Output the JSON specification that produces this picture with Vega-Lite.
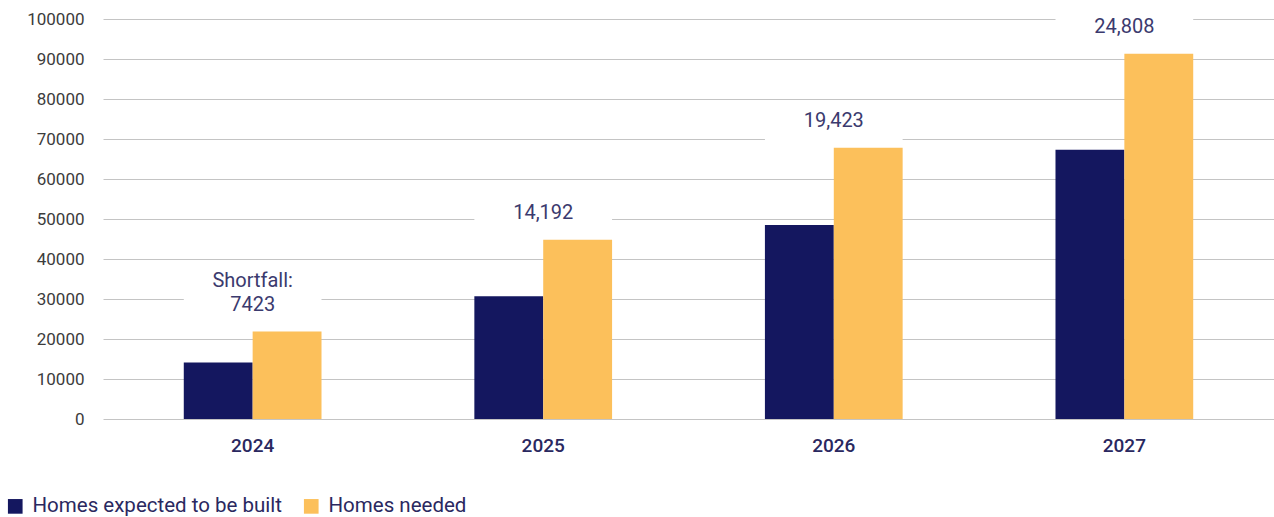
{
  "$schema": "https://vega.github.io/schema/vega-lite/v6.json",
  "width": 1171,
  "height": 400,
  "autosize": {"type": "none"},
  "padding": {"left": 103, "top": 19, "right": 0, "bottom": 98},
  "background": "white",
  "config": {
    "view": {"stroke": null},
    "font": "Roboto",
    "axis": {"gridColor": "#c4c4c4", "gridWidth": 1, "domain": false, "ticks": false, "labelOverlap": false}
  },
  "datasets": {
    "bars": [
      {"year": "2024", "series": "Homes expected to be built", "value": 14100},
      {"year": "2024", "series": "Homes needed", "value": 21850},
      {"year": "2025", "series": "Homes expected to be built", "value": 30700},
      {"year": "2025", "series": "Homes needed", "value": 44800},
      {"year": "2026", "series": "Homes expected to be built", "value": 48500},
      {"year": "2026", "series": "Homes needed", "value": 67800},
      {"year": "2027", "series": "Homes expected to be built", "value": 67300},
      {"year": "2027", "series": "Homes needed", "value": 91300}
    ],
    "labels": [
      {"year": "2024", "value": 21850, "label": "7423", "prefix": "Shortfall:"},
      {"year": "2025", "value": 44800, "label": "14,192", "prefix": ""},
      {"year": "2026", "value": 67800, "label": "19,423", "prefix": ""},
      {"year": "2027", "value": 91300, "label": "24,808", "prefix": ""}
    ]
  },
  "encoding": {
    "x": {
      "field": "year", "type": "nominal", "sort": null,
      "scale": {"paddingInner": 0.526, "paddingOuter": 0.278},
      "axis": {"title": null, "labelAngle": 0, "labelFontSize": 19, "labelFontWeight": 500, "labelColor": "#2a2860", "labelPadding": 17, "grid": false}
    },
    "y": {
      "field": "value", "type": "quantitative",
      "scale": {"domain": [0, 100000], "nice": false},
      "axis": {"title": null, "values": [0, 10000, 20000, 30000, 40000, 50000, 60000, 70000, 80000, 90000, 100000], "format": "d", "labelFontSize": 17, "labelColor": "#3c3c3c", "labelPadding": 19, "grid": true}
    }
  },
  "layer": [
    {
      "data": {"name": "bars"},
      "mark": {"type": "bar"},
      "encoding": {
        "xOffset": {"field": "series", "type": "nominal", "sort": null, "scale": {"paddingInner": 0, "paddingOuter": 0}},
        "color": {
          "field": "series", "type": "nominal", "sort": null,
          "scale": {"domain": ["Homes expected to be built", "Homes needed"], "range": ["#14175f", "#fcc05b"]},
          "legend": {
            "title": null, "orient": "none", "direction": "horizontal",
            "legendX": -98, "legendY": 477,
            "symbolType": "square", "symbolSize": 215, "symbolStrokeWidth": 0, "symbolOpacity": 1,
            "labelFontSize": 20.5, "labelColor": "#2a2860", "labelOffset": 7, "labelLimit": 0, "columnPadding": 19
          }
        }
      }
    },
    {
      "data": {"name": "labels"},
      "mark": {"type": "point", "shape": "M-1,-0.3H1V0.3H-1Z", "size": 18960, "filled": true, "color": "white", "opacity": 1, "strokeWidth": 0, "yOffset": -24}
    },
    {
      "data": {"name": "labels"},
      "mark": {"type": "text", "baseline": "bottom", "align": "center", "dy": -17, "fontSize": 20, "color": "#3b3a6e"},
      "encoding": {"text": {"field": "label"}}
    },
    {
      "data": {"name": "labels"},
      "transform": [{"filter": "datum.prefix != ''"}],
      "mark": {"type": "text", "baseline": "bottom", "align": "center", "dy": -41, "fontSize": 20, "color": "#3b3a6e"},
      "encoding": {"text": {"field": "prefix"}}
    }
  ]
}
